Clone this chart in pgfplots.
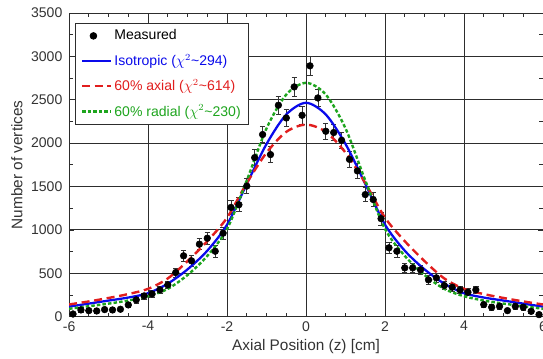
\documentclass[border=0pt]{standalone}
\usepackage{fontspec}
\setmainfont{Liberation Sans}
\usepackage{pgfplots}
\pgfplotsset{compat=1.18}
\definecolor{isoblue}{RGB}{10,10,235}
\definecolor{axred}{RGB}{225,30,30}
\definecolor{radgreen}{RGB}{30,165,30}
\definecolor{gridc}{RGB}{45,45,45}
\pgfplotsset{longline/.style={legend image code/.code={\draw[##1] (0cm,0cm) -- (0.75cm,0cm);}}}
\begin{document}
\begin{tikzpicture}
\begin{axis}[
  scale only axis, width=354.75pt, height=227.25pt,
  xmin=-6, xmax=6, ymin=0, ymax=3500,
  xtick={-6,-4,-2,0,2,4,6}, ytick={0,500,1000,1500,2000,2500,3000,3500},
  minor x tick num=3, minor y tick num=1,
  tick align=inside,
  major tick length=4pt, minor tick length=3pt,
  tick style={gridc, line width=0.5pt},
  grid=major,
  major grid style={gridc, line width=0.7pt},
  axis line style={gridc, line width=0.7pt},
  font=\fontsize{10.5}{12}\selectfont,
  tick label style={font=\fontsize{10.5}{12}\selectfont, text=black!80},
  yticklabel style={xshift=-1.5pt},
  /pgf/number format/assume math mode=true,
  /pgf/number format/1000 sep={},
  xlabel={Axial Position (z) [cm]},
  ylabel={Number of vertices},
  xlabel style={at={(axis description cs:0.5,0)}, anchor=center, yshift=-22.5pt,
    font=\fontsize{11.5}{13}\selectfont, text=black!80},
  ylabel style={at={(axis description cs:-0.11,0.5)}, anchor=center, rotate=0,
    font=\fontsize{11.5}{13}\selectfont, text=black!80},
  legend style={at={(0.0127,0.968)}, anchor=north west, draw=gridc, line width=0.6pt,
    font=\fontsize{10.5}{12}\selectfont, row sep=5pt, inner xsep=4pt, inner ysep=3pt, fill=white},
  legend cell align=left,
]
\coordinate (bbsw) at (rel axis cs:0,0);
\coordinate (bbne) at (rel axis cs:1,1);
\addplot[only marks, mark=*, mark size=2.5pt, black,
  error bars/.cd, y dir=both, y explicit,
  error bar style={line width=0.5pt, black!80},
  error mark options={rotate=90, mark size=2pt, line width=0.5pt, black!80}]
  table[x=z, y=n, y error=e] {
z n e
-5.9 30 20
-5.7 77 25
-5.5 69 25
-5.3 65 25
-5.1 81 25
-4.9 77 25
-4.7 85 25
-4.5 135 30
-4.3 193 35
-4.1 239 35
-3.9 262 40
-3.7 308 40
-3.5 366 45
-3.3 508 50
-3.1 701 60
-2.9 643 60
-2.7 835 65
-2.5 904 70
-2.3 754 65
-2.1 962 70
-1.9 1259 80
-1.7 1290 80
-1.5 1505 85
-1.3 1833 90
-1.1 2099 95
-0.9 1868 90
-0.7 2437 100
-0.5 2290 100
-0.3 2648 105
-0.1 2321 100
0.1 2891 110
0.3 2521 100
0.5 2137 95
0.7 2122 95
0.9 2033 95
1.1 1813 90
1.3 1680 85
1.5 1407 80
1.7 1350 80
1.9 1130 75
2.1 793 65
2.3 754 65
2.5 562 55
2.7 562 55
2.9 539 55
3.1 424 50
3.3 447 50
3.5 358 45
3.7 339 45
3.9 308 40
4.1 281 40
4.3 308 45
4.5 139 30
4.7 108 30
4.9 119 30
5.1 69 25
5.3 119 30
5.5 108 30
5.7 61 25
5.9 23 20
};
\addlegendentry{Measured}
\addplot[isoblue, line width=1.7pt, smooth, tension=0.5, longline]
  coordinates {(-6,115) (-5.5,150) (-5,185) (-4.5,220) (-4,270) (-3.5,380) (-3,545) (-2.5,760) (-2,1060) (-1.5,1530) (-1,1990) (-0.5,2330) (0,2465)
  (0.5,2330) (1,1990) (1.5,1530) (2,1060) (2.5,760) (3,545) (3.5,380) (4,270) (4.5,220) (5,185) (5.5,150) (6,115)};
\addlegendentry{\textcolor{isoblue}{Isotropic ($\chi^2$\textasciitilde294)}}
\addplot[axred, line width=1.8pt, dash pattern=on 6pt off 3.5pt, smooth, tension=0.5, longline]
  coordinates {(-6,140) (-5.5,175) (-5,215) (-4.5,260) (-4,320) (-3.5,440) (-3,640) (-2.5,870) (-2,1140) (-1.5,1540) (-1,1890) (-0.5,2130) (0,2214)
  (0.5,2130) (1,1890) (1.5,1540) (2,1140) (2.5,870) (3,640) (3.5,440) (4,320) (4.5,260) (5,215) (5.5,175) (6,140)};
\addlegendentry{\textcolor{axred}{60\% axial ($\chi^2$\textasciitilde614)}}
\addplot[radgreen, line width=1.8pt, dash pattern=on 2.6pt off 1.6pt, smooth, tension=0.5, longline]
  coordinates {(-6,90) (-5.5,120) (-5,150) (-4.5,185) (-4,235) (-3.5,320) (-3,480) (-2.5,700) (-2,1010) (-1.5,1570) (-1,2170) (-0.5,2560) (0,2695)
  (0.5,2560) (1,2170) (1.5,1570) (2,1010) (2.5,700) (3,480) (3.5,320) (4,235) (4.5,185) (5,150) (5.5,120) (6,90)};
\addlegendentry{\textcolor{radgreen}{60\% radial ($\chi^2$\textasciitilde230)}}
\end{axis}
\pgfresetboundingbox
\useasboundingbox ([xshift=-51.7pt, yshift=-31.5pt]bbsw) rectangle ([yshift=9.75pt]bbne);
\end{tikzpicture}
\end{document}
